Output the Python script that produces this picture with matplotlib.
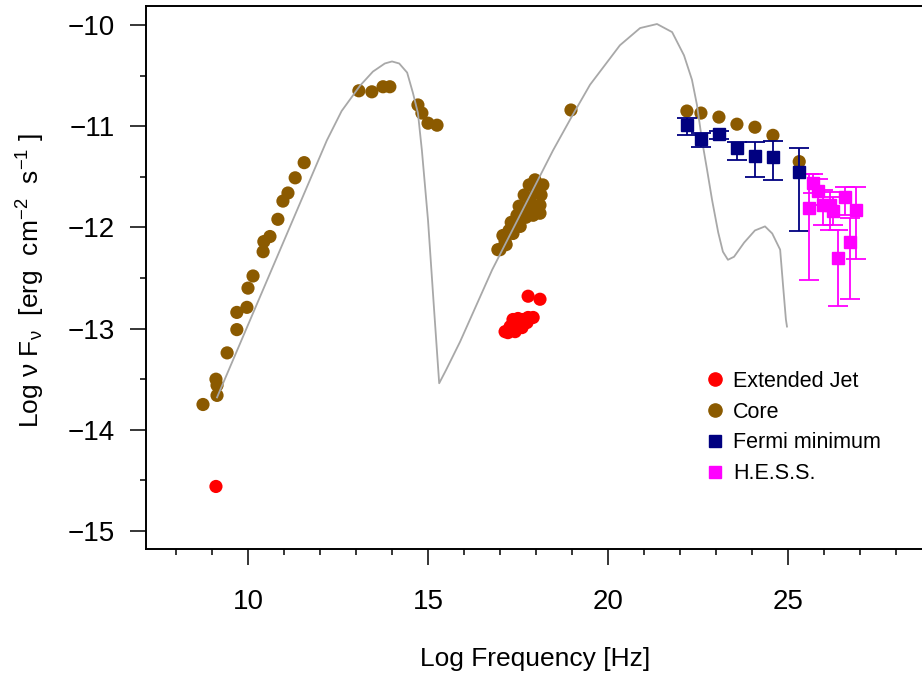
import matplotlib
matplotlib.use('Agg')
import matplotlib.pyplot as plt
from matplotlib.ticker import MultipleLocator
from matplotlib.lines import Line2D

plt.rcParams['font.family'] = ['Liberation Sans', 'DejaVu Sans']
plt.rcParams['mathtext.default'] = 'regular'

# core (brown circles)
core_x = [8.75, 9.11, 9.14, 9.14, 9.42, 9.69, 9.69, 9.97, 10.0, 10.14, 10.42, 10.44, 10.61, 10.83, 10.97, 11.11, 11.31, 11.56,
          13.08, 13.44, 13.75, 13.94, 14.72, 14.83, 15.0, 15.25,
          17.97, 18.19, 18.14, 18.11, 18.11, 17.92, 17.72, 17.56, 17.36, 17.14, 16.94, 17.08, 17.31, 17.53, 17.67, 17.81,
          17.83, 17.69, 17.47, 17.25, 17.89, 18.0, 17.0, 17.17,
          18.97,
          22.19, 22.58, 23.08, 23.58, 24.08, 24.58, 25.31]
core_y = [-13.75, -13.50, -13.56, -13.66, -13.24, -13.01, -12.84, -12.79, -12.60, -12.48, -12.24, -12.14, -12.09, -11.92, -11.74, -11.66, -11.51, -11.36,
          -10.65, -10.66, -10.61, -10.61, -10.79, -10.87, -10.97, -10.99,
          -11.53, -11.58, -11.68, -11.78, -11.86, -11.88, -11.90, -11.99, -12.06, -12.14, -12.22, -12.08, -11.95, -11.79, -11.68, -11.58,
          -11.73, -11.81, -11.88, -12.03, -11.81, -11.65, -12.22, -12.17,
          -10.84,
          -10.85, -10.87, -10.91, -10.98, -11.01, -11.09, -11.35]

# extended jet (red circles)
jet_x = [9.11, 17.14, 17.28, 17.36, 17.50, 17.64, 17.78, 17.92, 17.61, 17.42, 17.22, 17.75, 17.78, 18.11]
jet_y = [-14.56, -13.03, -12.98, -12.91, -12.90, -12.91, -12.89, -12.89, -12.99, -13.03, -13.04, -12.94, -12.68, -12.71]

# Fermi minimum
fermi_x = [22.19, 22.58, 23.08, 23.58, 24.08, 24.58, 25.31]
fermi_y = [-10.99, -11.13, -11.08, -11.22, -11.29, -11.30, -11.45]
fermi_hi = [-10.92, -11.07, -11.05, -11.16, -11.16, -11.15, -11.22]
fermi_lo = [-11.09, -11.21, -11.13, -11.33, -11.50, -11.53, -12.04]

# H.E.S.S.
hess_x = [25.58, 25.69, 25.83, 25.97, 26.17, 26.25, 26.39, 26.58, 26.72, 26.89]
hess_y = [-11.81, -11.56, -11.64, -11.78, -11.78, -11.84, -12.30, -11.70, -12.14, -11.83]
hess_hi = [-11.47, -11.47, -11.52, -11.63, -11.65, -11.70, -12.03, -11.60, -11.91, -11.60]
hess_lo = [-12.52, -11.66, -11.78, -11.98, -12.03, -11.98, -12.78, -11.88, -12.71, -12.31]

# SSC model curve
model_x = [9.14, 12.19, 12.6, 13.11, 13.47, 13.8, 14.0, 14.2, 14.42, 14.58, 14.72, 14.83, 15.0, 15.17, 15.31,
           15.50, 15.89, 16.78, 18.47, 19.0, 19.50, 20.33, 20.89, 21.36, 21.78, 22.11, 22.33, 22.47, 22.61, 22.75,
           22.89, 23.06, 23.19, 23.33, 23.50, 23.78, 24.08, 24.36, 24.56, 24.78, 24.86, 24.94, 24.97]
model_y = [-13.68, -11.14, -10.85, -10.60, -10.46, -10.38, -10.36, -10.38, -10.47, -10.67, -10.87, -11.24, -11.93, -12.82, -13.54,
           -13.41, -13.13, -12.42, -11.24, -10.90, -10.59, -10.20, -10.03, -9.99, -10.07, -10.30, -10.54, -10.79, -11.14, -11.43,
           -11.73, -12.05, -12.24, -12.32, -12.29, -12.15, -12.03, -11.99, -12.06, -12.22, -12.57, -12.91, -12.98]

BROWN = '#8B5A00'

fig = plt.figure(figsize=(9.22, 6.75), dpi=100)
ax = fig.add_axes([146 / 922, 126 / 675, 776 / 922, 543 / 675])

ax.scatter(core_x, core_y, s=90, color=BROWN, edgecolors='none', zorder=2)
ax.scatter(jet_x, jet_y, s=90, color='red', edgecolors='none', zorder=2)
ax.plot(model_x, model_y, color='#A8A8A8', linewidth=1.3, zorder=3)

for xs, ys, hi, lo, col in [(fermi_x, fermi_y, fermi_hi, fermi_lo, '#000080'),
                            (hess_x, hess_y, hess_hi, hess_lo, '#FF00FF')]:
    yerr = [[y - l for y, l in zip(ys, lo)], [h - y for y, h in zip(ys, hi)]]
    ax.errorbar(xs, ys, yerr=yerr, fmt='s', color=col, markersize=8.5,
                elinewidth=1.3, capsize=7, capthick=1.3, zorder=4)

ax.set_xlim(7.167, 28.72)
ax.set_ylim(-15.178, -9.812)
ax.xaxis.set_major_locator(MultipleLocator(5))
ax.xaxis.set_minor_locator(MultipleLocator(1))
ax.yaxis.set_major_locator(MultipleLocator(1))
ax.yaxis.set_minor_locator(MultipleLocator(0.5))
ax.tick_params(which='major', direction='out', length=11.5, width=1.1, labelsize=20)
ax.tick_params(which='minor', direction='out', length=4.3, width=1.1)
ax.tick_params(axis='x', which='major', pad=17)
ax.tick_params(axis='y', which='major', pad=11)
ax.spines['right'].set_visible(False)
for s in ['left', 'bottom', 'top']:
    ax.spines[s].set_linewidth(1.4)

ax.set_xlabel('Log Frequency [Hz]', fontsize=19)
ax.xaxis.set_label_coords(0.501, -0.180)
ax.set_ylabel(r'Log ν F$_{ν}$  [erg  cm$^{-2}$  s$^{-1}$ ]', fontsize=19)
ax.yaxis.set_label_coords(-0.127, 0.495)

handles = [
    Line2D([], [], marker='o', linestyle='none', color='red', markersize=9.5),
    Line2D([], [], marker='o', linestyle='none', color=BROWN, markersize=9.5),
    Line2D([], [], marker='s', linestyle='none', color='#000080', markersize=8),
    Line2D([], [], marker='s', linestyle='none', color='#FF00FF', markersize=8),
]
labels = ['Extended Jet', 'Core', 'Fermi minimum', 'H.E.S.S.']
fig.legend(handles, labels, loc='upper left', bbox_to_anchor=(704 / 922, 1 - 371 / 675),
           frameon=False, fontsize=15.5, handlelength=1.0, handletextpad=0.35,
           labelspacing=0.45, borderpad=0, borderaxespad=0)

fig.savefig('out.png', dpi=100)
